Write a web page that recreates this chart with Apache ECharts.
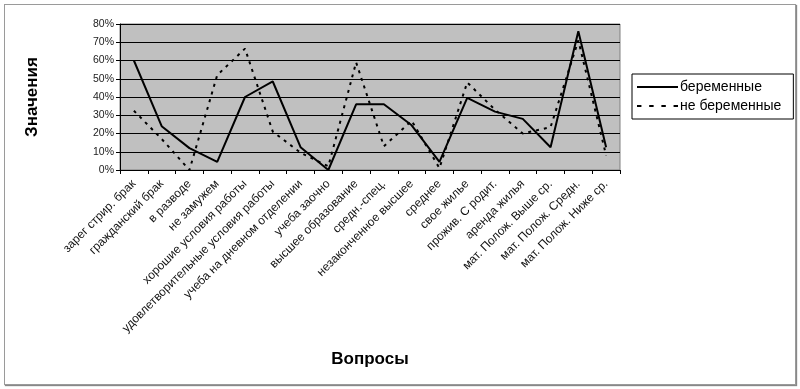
<!DOCTYPE html>
<html><head><meta charset="utf-8">
<script src="https://cdn.jsdelivr.net/npm/echarts@6/dist/echarts.min.js"></script>
<style>
html,body{margin:0;padding:0;background:#fff;}
#frame{position:absolute;left:4px;top:4px;width:790px;height:379px;border:1px solid #9a9a9a;box-shadow:1px 1px 1px #888;}
#c{position:absolute;left:0;top:0;width:800px;height:389px;}
</style></head>
<body>
<div id="frame"></div>
<div id="c"></div>
<script>
const categories = ['зарег стрир. брак','гражданский брак','в разводе','не замужем','хорошие условия работы','удовлетворительные условия работы','учеба на дневном отделении','учеба заочно','высшее образование','средн.-спец.','незаконченное высшее','среднее','свое жилье','прожив. С родит.','аренда жилья','мат. Полож. Выше ср.','мат. Полож. Средн.','мат. Полож. Ниже ср.'];
const pregnant = [60, 24, 12, 4.5, 40, 48.5, 12.5, 0, 36, 36, 24.5, 4.5, 39.5, 32, 28, 12.5, 76, 12.5];
const notPregnant = [32.5, 17, 0, 52, 66.5, 21, 9.5, 2, 59, 13, 27, 1, 48, 33, 20, 23.5, 71, 8];
const yTicks = [0, 10, 20, 30, 40, 50, 60, 70, 80];

const chart = echarts.init(document.getElementById('c'), null, {renderer:'canvas'});
const font = '"Liberation Sans", Arial, sans-serif';
chart.setOption({
  animation:false,
  grid:{left:120, right:180, top:24, bottom:219, show:true, backgroundColor:'#c0c0c0', borderColor:'#808080', borderWidth:1},
  xAxis:{type:'category', data:categories, boundaryGap:true,
    axisLine:{show:true, lineStyle:{color:'#000', width:1}},
    axisTick:{show:true, alignWithLabel:false, length:4, lineStyle:{color:'#000'}},
    axisLabel:{interval:0, rotate:45, fontFamily:font, fontSize:12, color:'#111', margin:12},
    name:'Вопросы', nameLocation:'middle', nameGap:181,
    nameTextStyle:{fontFamily:font, fontSize:17, fontWeight:'bold', color:'#000'}
  },
  yAxis:{type:'value', min:0, max:80, interval:10,
    axisLine:{show:true, lineStyle:{color:'#000'}},
    axisTick:{show:true, length:4, lineStyle:{color:'#000'}},
    axisLabel:{formatter:v=>yTicks.includes(v)? v+'%':'', fontFamily:font, fontSize:10.5, color:'#222', margin:6},
    splitLine:{show:true, lineStyle:{color:'#000', width:1}},
    name:'Значения', nameLocation:'middle', nameGap:79, nameRotate:90,
    nameTextStyle:{fontFamily:font, fontSize:17, fontWeight:'bold', color:'#000'}
  },
  legend:{orient:'vertical', left:632, top:74, itemWidth:41, itemHeight:10, itemGap:5,
    padding:[6,12,6,5],
    borderColor:'#000', borderWidth:1, backgroundColor:'#fff',
    textStyle:{fontFamily:font, fontSize:14, color:'#000', padding:[0,0,0,-3]},
    data:[{name:'беременные', icon:'path://M0,0H40V2H0Z'},
          {name:'не беременные', icon:'path://M0,0H4V2H0ZM11,0H15V2H11ZM22,0H26V2H22ZM33,0H37V2H33Z'}]
  },
  series:[
    {name:'беременные', type:'line', data:pregnant, showSymbol:false, symbol:'none',
      lineStyle:{color:'#000', width:2, type:'solid'}, itemStyle:{color:'#000'}},
    {name:'не беременные', type:'line', data:notPregnant, showSymbol:false, symbol:'none',
      lineStyle:{color:'#000', width:2, type:[3,5]}, itemStyle:{color:'#000'}}
  ]
});
</script>
</body></html>
